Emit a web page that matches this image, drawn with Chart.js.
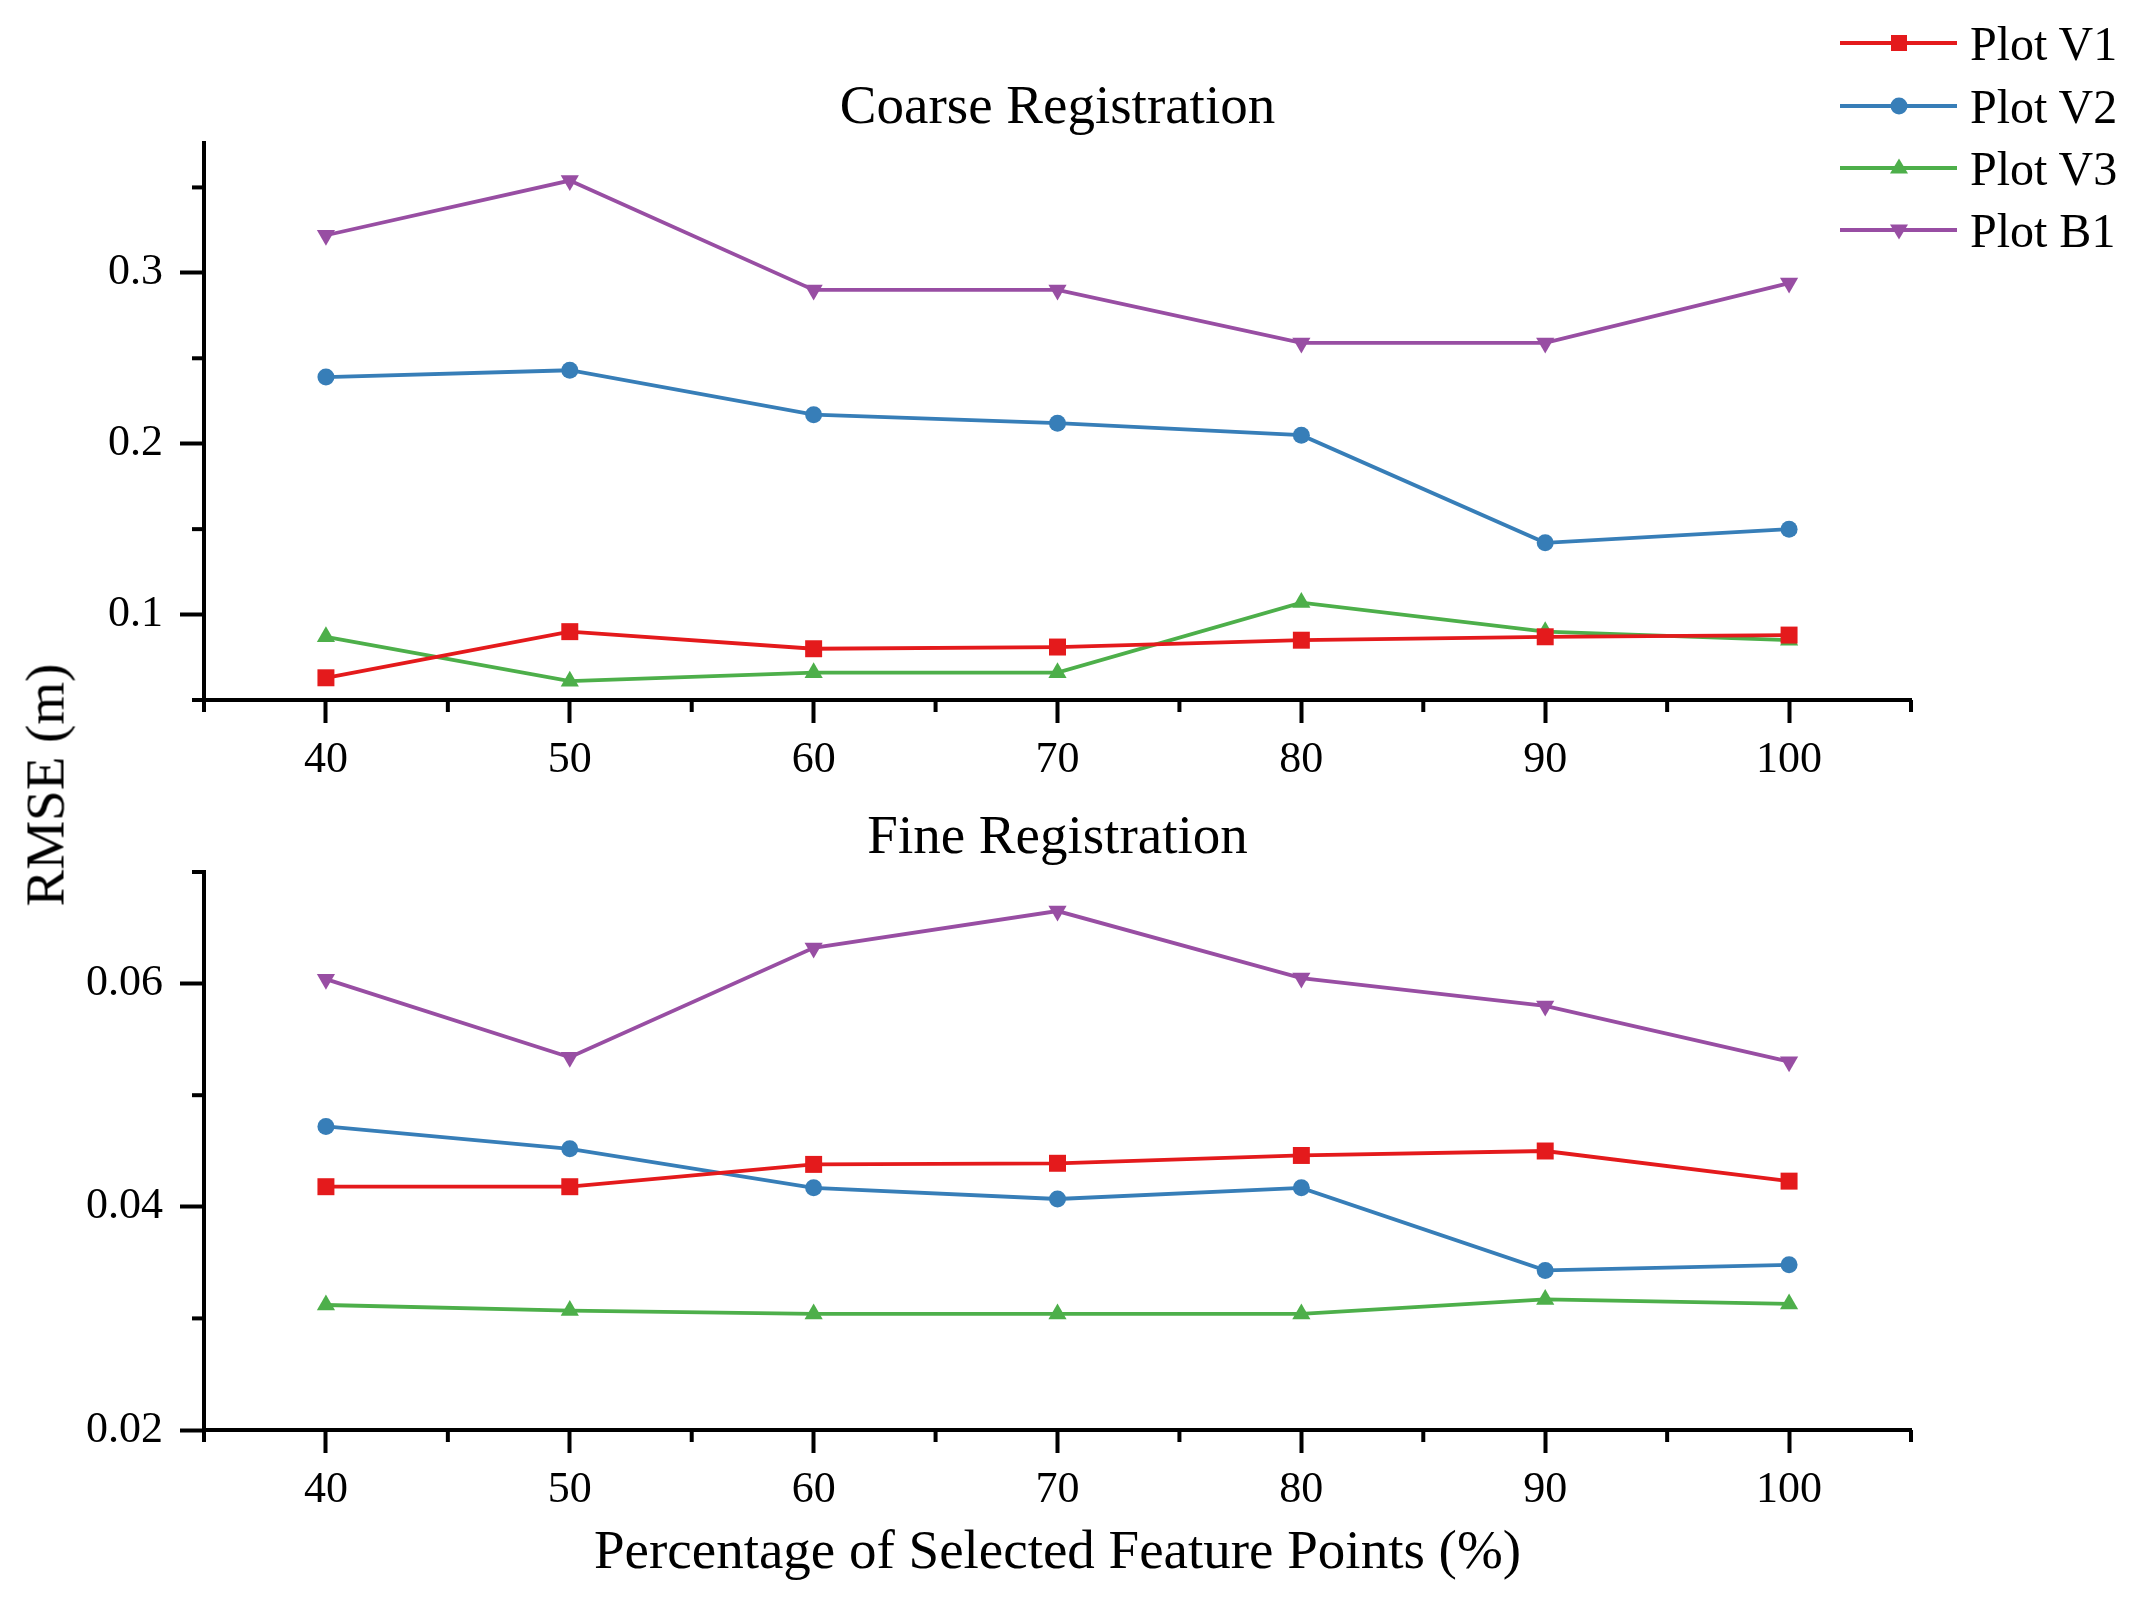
<!DOCTYPE html>
<html>
<head>
<meta charset="utf-8">
<title>RMSE vs Percentage of Selected Feature Points</title>
<script src="https://cdn.jsdelivr.net/npm/chart.js@4.4.1/dist/chart.umd.min.js"></script>
<style>
  html, body { margin: 0; padding: 0; background: #fff; }
  #page { position: relative; width: 2133px; height: 1601px; overflow: hidden; font-family: "Liberation Serif", "Times New Roman", serif; }
  canvas { position: absolute; left: 0; }
  #ylabel { position: absolute; left: 45px; top: 785px; transform: translate(-50%, -50%) rotate(-90deg); font-size: 55px; white-space: nowrap; color: #000; }
  .legend-row { position: absolute; left: 1840px; height: 60px; display: flex; align-items: center; font-size: 48px; color: #000; white-space: nowrap; }
  .legend-row svg { margin-right: 13px; }
</style>
</head>
<body>
<div id="page">
  <canvas id="coarse" width="2133" height="790" style="top:0px"></canvas>
  <canvas id="fine" width="2133" height="811" style="top:790px"></canvas>
  <div id="ylabel">RMSE (m)</div>
  <div id="legend"></div>
</div>
<script>
// percentage of selected feature points
var xValues = [40, 50, 60, 70, 80, 90, 100];
var xMajorTicks = [40, 50, 60, 70, 80, 90, 100];
var xMinorTicks = [35, 45, 55, 65, 75, 85, 95, 105];

// coarse registration RMSE (m)
var coarseV1 = [0.063, 0.090, 0.080, 0.081, 0.085, 0.087, 0.088];
var coarseV2 = [0.239, 0.243, 0.217, 0.212, 0.205, 0.142, 0.150];
var coarseV3 = [0.087, 0.061, 0.066, 0.066, 0.107, 0.090, 0.085];
var coarseB1 = [0.322, 0.354, 0.290, 0.290, 0.259, 0.259, 0.294];
var coarseMajorTicks = [0.1, 0.2, 0.3];
var coarseMinorTicks = [0.05, 0.15, 0.25, 0.35];

// fine registration RMSE (m)
var fineV1 = [0.0418, 0.0418, 0.0438, 0.0439, 0.0446, 0.0450, 0.0423];
var fineV2 = [0.0472, 0.0452, 0.0417, 0.0407, 0.0417, 0.0343, 0.0348];
var fineV3 = [0.0312, 0.0307, 0.0304, 0.0304, 0.0304, 0.0317, 0.0313];
var fineB1 = [0.0604, 0.0534, 0.0632, 0.0665, 0.0605, 0.0580, 0.0530];
var fineMajorTicks = [0.02, 0.04, 0.06];
var fineMinorTicks = [0.03, 0.05, 0.07];

var seriesNames = ["Plot V1", "Plot V2", "Plot V3", "Plot B1"];
var seriesColors = ["#e41a1c", "#377eb8", "#4daf4a", "#984ea3"];
var seriesShapes = ["rect", "circle", "triangle", "triangle"];
var seriesRadius = [12, 8.5, 10.5, 10.5];
var seriesRotation = [0, 0, 0, 180];

var FONT = "'Liberation Serif', 'Times New Roman', serif";

// small outward ticks between the labelled ones
var minorTicks = {
    id: 'minorTicks',
    afterDraw: function (chart, args, opts) {
        var ctx = chart.ctx;
        var area = chart.chartArea;
        var xs = chart.scales.x, ys = chart.scales.y;
        ctx.save();
        ctx.strokeStyle = '#000';
        ctx.lineWidth = 4;
        opts.x.forEach(function (v) {
            var px = xs.getPixelForValue(v);
            ctx.beginPath();
            ctx.moveTo(px, area.bottom);
            ctx.lineTo(px, area.bottom + 12);
            ctx.stroke();
        });
        opts.y.forEach(function (v) {
            var py = ys.getPixelForValue(v);
            ctx.beginPath();
            ctx.moveTo(area.left, py);
            ctx.lineTo(area.left - 12, py);
            ctx.stroke();
        });
        ctx.restore();
    }
};

function buildDatasets(seriesList) {
    return seriesList.map(function (values, i) {
        return {
            label: seriesNames[i],
            data: values.map(function (v, j) { return {x: xValues[j], y: v}; }),
            borderColor: seriesColors[i],
            backgroundColor: seriesColors[i],
            borderWidth: 3.8,
            pointStyle: seriesShapes[i],
            pointRadius: seriesRadius[i],
            pointRotation: seriesRotation[i],
            pointBorderWidth: 0,
            pointBackgroundColor: seriesColors[i],
            tension: 0
        };
    });
}

function makeChart(canvasId, opts) {
    var ctx = document.getElementById(canvasId).getContext('2d');
    return new Chart(ctx, {
        type: 'line',
        data: {datasets: buildDatasets(opts.series)},
        options: {
            responsive: false,
            animation: false,
            devicePixelRatio: 1,
            layout: {padding: {left: 0, right: 222, top: 0, bottom: 0}},
            plugins: {
                legend: {display: false},
                tooltip: {enabled: false},
                title: {
                    display: true,
                    text: opts.title,
                    fullSize: false,
                    color: '#000',
                    font: {family: FONT, size: 55, weight: 'normal', lineHeight: 1.2},
                    padding: opts.titlePadding
                },
                minorTicks: {x: xMinorTicks, y: opts.minor}
            },
            scales: {
                x: {
                    type: 'linear',
                    min: 35,
                    max: 105,
                    afterBuildTicks: function (axis) {
                        axis.ticks = xMajorTicks.map(function (v) { return {value: v}; });
                    },
                    afterFit: function (axis) { axis.height = opts.xHeight; },
                    grid: {drawOnChartArea: false, drawTicks: true, tickLength: 23, tickWidth: 4, tickColor: '#000'},
                    border: {display: true, width: 4, color: '#000'},
                    ticks: {color: '#000', padding: 11, maxRotation: 0, font: {family: FONT, size: 44}},
                    title: opts.xTitle
                },
                y: {
                    type: 'linear',
                    min: opts.yMin,
                    max: opts.yMax,
                    afterBuildTicks: function (axis) {
                        axis.ticks = opts.major.map(function (v) { return {value: v}; });
                    },
                    afterFit: function (axis) { axis.width = 204; },
                    grid: {drawOnChartArea: false, drawTicks: true, tickLength: 24, tickWidth: 4, tickColor: '#000'},
                    border: {display: true, width: 4, color: '#000'},
                    ticks: {color: '#000', padding: 17, font: {family: FONT, size: 44}}
                }
            }
        },
        plugins: [minorTicks]
    });
}

makeChart('coarse', {
    series: [coarseV1, coarseV2, coarseV3, coarseB1],
    title: 'Coarse Registration',
    titlePadding: {top: 76, bottom: 1},
    yMin: 0.05,
    yMax: 0.376,
    major: coarseMajorTicks,
    minor: coarseMinorTicks,
    xHeight: 90,
    xTitle: {display: false}
});

makeChart('fine', {
    series: [fineV1, fineV2, fineV3, fineB1],
    title: 'Fine Registration',
    titlePadding: {top: 16, bottom: 0},
    yMin: 0.02,
    yMax: 0.07,
    major: fineMajorTicks,
    minor: fineMinorTicks,
    xHeight: 171,
    xTitle: {
        display: true,
        text: 'Percentage of Selected Feature Points (%)',
        color: '#000',
        font: {family: FONT, size: 55, weight: 'normal', lineHeight: 1.2},
        padding: {top: 0, bottom: 14}
    }
});

// legend: line with marker, then the series name
var legendCenters = [43, 106, 168, 230];
function markerSvg(i) {
    var c = seriesColors[i];
    var m;
    if (seriesShapes[i] === 'rect') {
        m = '<rect x="51" y="2" width="16" height="16" fill="' + c + '"/>';
    } else if (seriesShapes[i] === 'circle') {
        m = '<circle cx="59" cy="10" r="8.5" fill="' + c + '"/>';
    } else if (seriesRotation[i] === 180) {
        m = '<polygon points="50,4.5 68,4.5 59,19.5" fill="' + c + '"/>';
    } else {
        m = '<polygon points="50,15.5 68,15.5 59,0.5" fill="' + c + '"/>';
    }
    return '<svg width="117" height="20" viewBox="0 0 117 20">' +
        '<line x1="0" y1="10" x2="117" y2="10" stroke="' + c + '" stroke-width="4"/>' + m + '</svg>';
}
var legend = document.getElementById('legend');
seriesNames.forEach(function (name, i) {
    var row = document.createElement('div');
    row.className = 'legend-row';
    row.style.top = (legendCenters[i] - 30) + 'px';
    row.innerHTML = markerSvg(i) + '<span>' + name + '</span>';
    legend.appendChild(row);
});
</script>
</body>
</html>
